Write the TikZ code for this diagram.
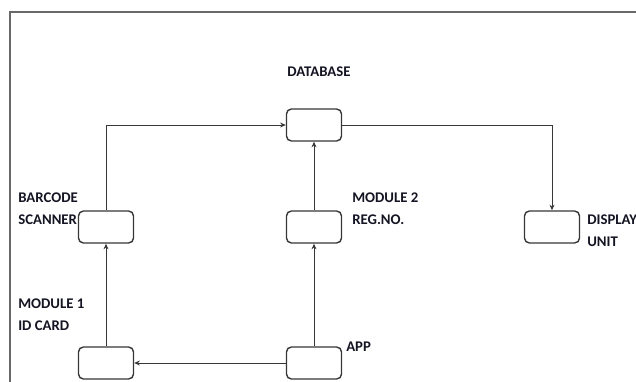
\documentclass[tikz,border=0pt]{standalone}
\usepackage{fontspec}
\setmainfont{Carlito}[BoldFont={Carlito Bold}]
\usepackage{tikz}
\usetikzlibrary{arrows.meta,positioning}
\definecolor{LineG} {RGB}{55, 55, 55}
\definecolor{FrameG}{RGB}{105,105,105}
\definecolor{TextK} {RGB}{20, 20, 35}

\begin{document}
\begin{tikzpicture}[x=0.025cm,y=-0.025cm,
    unit/.style={draw=LineG,line width=1pt,rounded corners=3.5pt,
      minimum width=1.375cm,minimum height=0.8cm},
    lbl/.style={anchor=west,align=left,inner sep=0pt,text=TextK,
      font=\fontsize{10.5}{15.5}\selectfont\bfseries},
    flow/.style={-{Stealth[length=4pt,width=3.5pt]},LineG,line width=0.7pt}]
        \useasboundingbox (0,0) rectangle (636,381);
        \draw[FrameG,line width=1.1pt] (10,12) rectangle (660,400);
        % boxes
        \node[unit] (db)   at (314,125) {};
        \node[unit] (scan) at (106,227) {};
        \node[unit] (reg)  at (314,227) {};
        \node[unit] (disp) at (552,227) {};
        \node[unit] (card) at (106,363) {};
        \node[unit] (app)  at (314,363) {};
        % labels
        \node[lbl,anchor=center] (dbl) at (319,72) {DATABASE};
        \node[lbl] (scanl) at (18,209) {BARCODE\\SCANNER};
        \node[lbl] (cardl) at (18,315) {MODULE 1\\ID CARD};
        \node[lbl] (regl)  at (352,209) {MODULE 2\\REG.NO.};
        \node[lbl] (displ) at (587,231) {DISPLAY\\UNIT};
        \node[lbl] (appl)  at (346,347) {APP};
        % connectors
        \draw[flow] (scan.north) |- (db.west);
        \draw[flow] (db.east) -| (disp.north);
        \draw[flow] (reg) -- (db);
        \draw[flow] (app) -- (reg);
        \draw[flow] (card) -- (scan);
        \draw[flow] (app) -- (card);
      \end{tikzpicture}
\end{document}
